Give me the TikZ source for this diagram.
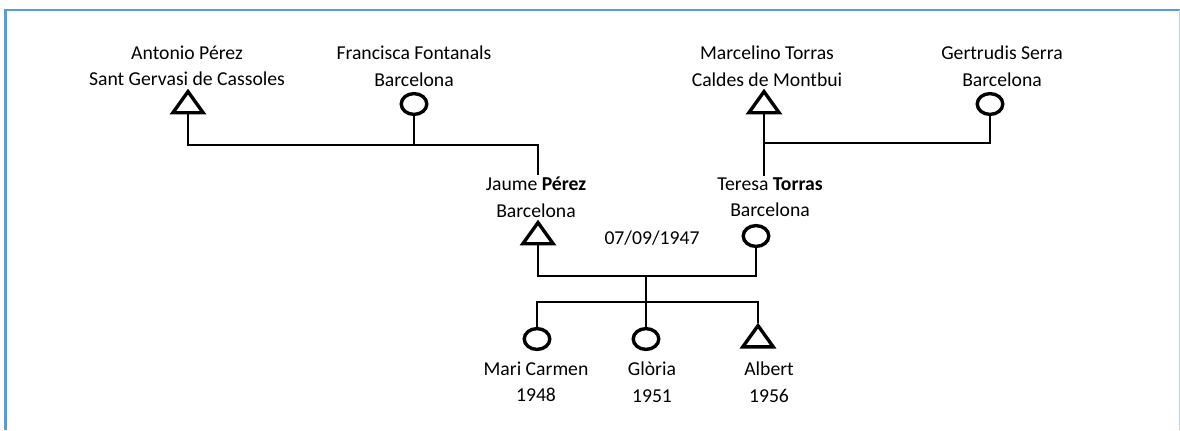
\documentclass[tikz,border=0pt]{standalone}
\usepackage{fontspec}
\setmainfont{Carlito}
\usepackage{xcolor}
\usetikzlibrary{shapes.geometric}
\definecolor{frameblue}{RGB}{91,155,213}
\definecolor{framelight}{RGB}{189,210,232}

\begin{document}
\begin{tikzpicture}[x=0.25mm, y=-0.25mm,
    male/.style={isosceles triangle, isosceles triangle apex angle=71,
        isosceles triangle stretches, shape border rotate=90, draw,
        line width=2.4pt, inner sep=0pt, minimum width=7.6mm, minimum height=5.3mm},
    female/.style={ellipse, draw, line width=2.4pt, inner sep=0pt,
        minimum width=6.4mm, minimum height=5.2mm},
    persontext/.style={align=center, font=\fontsize{14}{18.9}\selectfont, inner sep=1pt},
    famline/.style={line width=1pt}]
    \useasboundingbox (0,0) rectangle (1180,430);
    \draw[frameblue, line width=2.1pt] (4,10) -- (1180,10);
    \draw[frameblue, line width=2.1pt] (5.5,9) -- (5.5,430);
    \draw[framelight, line width=0.7pt] (1179.5,10) -- (1179.5,430);

    % grandparents
    \node[male] (antonio) at (188,105) {};
    \node[persontext] (antonioTxt) at (187,66) {Antonio Pérez\\Sant Gervasi de Cassoles};
    \node[female] (francisca) at (414,104) {};
    \node[persontext] (franciscaTxt) at (414,66) {Francisca Fontanals\\Barcelona};
    \node[male] (marcelino) at (764,105) {};
    \node[persontext] (marcelinoTxt) at (767,66) {Marcelino Torras\\Caldes de Montbui};
    \node[female] (gertrudis) at (990,104) {};
    \node[persontext] (gertrudisTxt) at (1002,66) {Gertrudis Serra\\Barcelona};

    % parents
    \node[male] (jaume) at (538,236) {};
    \node[persontext] (jaumeTxt) at (536,197) {Jaume \textbf{Pérez}\\Barcelona};
    \node[female] (teresa) at (756,236) {};
    \node[persontext] (teresaTxt) at (770,197) {Teresa \textbf{Torras}\\Barcelona};
    \node[persontext] (wedding) at (652,238) {07/09/1947};

    % children
    \node[female] (mari) at (537,339) {};
    \node[persontext] (mariTxt) at (536,382) {Mari Carmen\\1948};
    \node[female] (gloria) at (646,339) {};
    \node[persontext] (gloriaTxt) at (652,382) {Glòria\\1951};
    \node[male] (albert) at (758,339) {};
    \node[persontext] (albertTxt) at (769,382) {Albert\\1956};

    \coordinate (perezJoin) at (538,145);
    \coordinate (torrasJoin) at (764,143);
    \coordinate (marriage) at (646,276);
    \coordinate (siblings) at (646,302);

    \draw[famline] (antonio.lower side) |- (perezJoin) -- (perezJoin |- jaumeTxt.north);
    \draw[famline] (francisca.south) -- (francisca.south |- perezJoin);
    \draw[famline] (marcelino.lower side) -- (marcelino.lower side |- teresaTxt.north);
    \draw[famline] (gertrudis.south) |- (torrasJoin);
    \draw[famline] (jaume.lower side) |- (marriage) -| (teresa.south);
    \draw[famline] (marriage) -- (gloria.north);
    \draw[famline] (mari.north) |- (siblings) -| (albert.apex);
\end{tikzpicture}
\end{document}
